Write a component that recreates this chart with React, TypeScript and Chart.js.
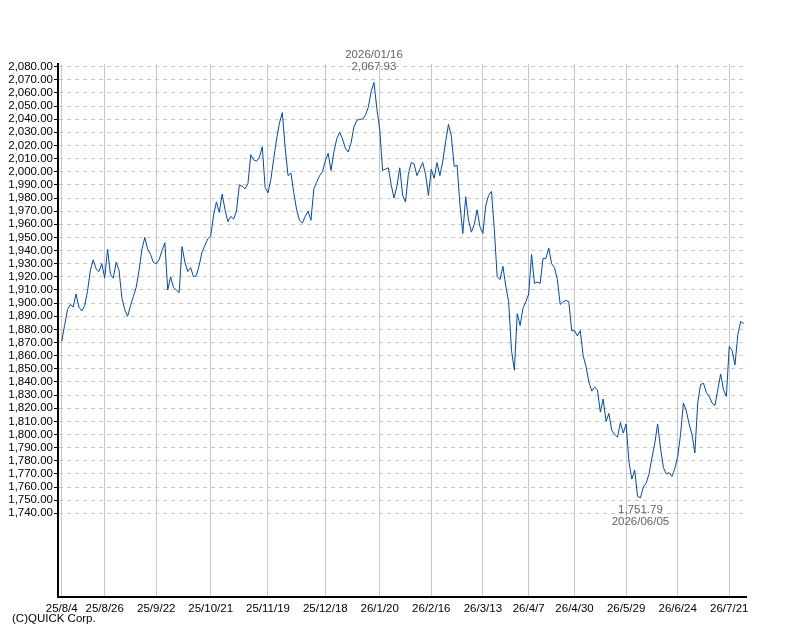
import { useEffect, useRef } from 'react';
import { Chart, registerables } from 'chart.js';

Chart.register(...registerables);

// daily closes, 2025/08/04 .. 2026/07/27 (trading days)
const closes: number[] = [
  1871, 1883, 1895, 1899, 1897, 1907, 1897, 1894, 1898, 1909,
  1925, 1933, 1926, 1924, 1930, 1919, 1941, 1922, 1919, 1931,
  1925, 1904, 1895, 1890, 1898, 1905, 1912, 1925, 1941, 1950,
  1941, 1937, 1931, 1930, 1933, 1940, 1946, 1910, 1920, 1912,
  1910, 1908, 1943, 1931, 1924, 1927, 1920, 1921, 1929, 1939,
  1944, 1949, 1951, 1967, 1977, 1969, 1983, 1971, 1962, 1966,
  1964, 1970, 1990, 1989, 1987, 1991, 2013, 2009, 2008, 2011,
  2019, 1988, 1984, 1994, 2010, 2025, 2037, 2045, 2018, 1997,
  1999, 1984, 1971, 1963, 1961, 1966, 1970, 1963, 1987, 1992,
  1997, 2000, 2008, 2014, 2001, 2015, 2025, 2030, 2025, 2018,
  2015, 2022, 2034, 2039, 2040, 2040, 2043, 2049, 2061, 2067.93,
  2048, 2032, 2001, 2002, 2003, 1990, 1980, 1989, 2003, 1982,
  1977, 1998, 2007, 2006, 1997, 2002, 2007, 1998, 1982, 2002,
  1995, 2007, 1997, 2008, 2023, 2036, 2027, 2004, 2005, 1975,
  1953, 1981, 1963, 1954, 1960, 1971, 1958, 1953, 1974, 1982,
  1985, 1956, 1920, 1918, 1928, 1913, 1901, 1864, 1849, 1892,
  1883, 1896, 1901, 1907, 1937, 1915, 1916, 1915, 1934, 1934,
  1942, 1930, 1927, 1918, 1899, 1901, 1902, 1901, 1879, 1879,
  1875, 1879, 1860, 1852, 1840, 1833, 1836, 1834, 1817, 1827,
  1810, 1816, 1803, 1800, 1798, 1809, 1801, 1808, 1779, 1766,
  1773, 1753, 1751.79, 1760, 1763, 1770, 1782, 1793, 1808, 1790,
  1775, 1770, 1771, 1768, 1774, 1783, 1800, 1824, 1818, 1808,
  1800, 1786, 1824, 1838, 1839, 1832, 1829, 1824, 1822, 1834,
  1846, 1834, 1829, 1867, 1864, 1853, 1876, 1886, 1884.5,
];

const xTickIdx = [0, 15, 33, 52, 72, 92, 111, 129, 147, 163, 179, 197, 215, 233];
const xTickLabels = [
  '25/8/4', '25/8/26', '25/9/22', '25/10/21', '25/11/19', '25/12/18', '26/1/20',
  '26/2/16', '26/3/13', '26/4/7', '26/4/30', '26/5/29', '26/6/24', '26/7/21',
];
const yTicks = [
  1740, 1750, 1760, 1770, 1780, 1790, 1800, 1810, 1820, 1830, 1840, 1850,
  1860, 1870, 1880, 1890, 1900, 1910, 1920, 1930, 1940, 1950, 1960, 1970,
  1980, 1990, 2000, 2010, 2020, 2030, 2040, 2050, 2060, 2070, 2080,
];

const highIdx = 109;
const highDate = '2026/01/16';
const lowIdx = 202;
const lowDate = '2026/06/05';

const FONT = '11.5px "Liberation Sans", Arial, sans-serif';
const fmt = (v: number) =>
  v.toLocaleString('en-US', { minimumFractionDigits: 2, maximumFractionDigits: 2 });

const notesPlugin = {
  id: 'notes',
  afterDraw(chart: any) {
    const { ctx, scales } = chart;
    const x = scales.x;
    const y = scales.y;
    ctx.save();
    ctx.font = FONT;
    ctx.textBaseline = 'middle';
    ctx.textAlign = 'center';
    ctx.fillStyle = '#646464';

    const hx = x.getPixelForValue(highIdx);
    const hy = y.getPixelForValue(closes[highIdx]);
    ctx.fillText(highDate, hx, hy - 28);
    ctx.fillText(fmt(closes[highIdx]), hx, hy - 16);

    const lx = x.getPixelForValue(lowIdx);
    const ly = y.getPixelForValue(closes[lowIdx]);
    ctx.fillText(fmt(closes[lowIdx]), lx, ly + 12);
    ctx.fillText(lowDate, lx, ly + 24);

    ctx.fillStyle = '#000';
    ctx.textAlign = 'left';
    ctx.fillText('(C)QUICK Corp.', 12, 619);
    ctx.restore();
  },
};

function PriceChart() {
  const canvasRef = useRef<HTMLCanvasElement>(null);

  useEffect(() => {
    if (!canvasRef.current) return;
    const chart = new Chart(canvasRef.current, {
      type: 'line',
      data: {
        datasets: [
          {
            data: closes.map((v, i) => ({ x: i, y: v })),
            borderColor: '#0048b4',
            borderWidth: 1,
            pointRadius: 0,
            tension: 0,
            fill: false,
          },
        ],
      },
      options: {
        animation: false,
        responsive: false,
        events: [],
        layout: { padding: { left: 0, top: 64, right: 44, bottom: 0 } },
        plugins: { legend: { display: false }, tooltip: { enabled: false } },
        scales: {
          x: {
            type: 'linear',
            min: -1.3,
            max: 238.85,
            afterBuildTicks: (scale: any) => {
              scale.ticks = xTickIdx.map((v) => ({ value: v }));
            },
            afterFit: (scale: any) => {
              scale.height = 43;
            },
            grid: { color: '#c8c8c8', lineWidth: 1, drawTicks: false },
            border: { display: true, color: '#000', width: 2 },
            ticks: {
              autoSkip: false,
              maxRotation: 0,
              padding: 5,
              color: '#000',
              font: { family: '"Liberation Sans", Arial, sans-serif', size: 11.5 },
              callback: (value: any) => xTickLabels[xTickIdx.indexOf(Number(value))] ?? '',
            },
          },
          y: {
            type: 'linear',
            min: 1676.3,
            max: 2082,
            afterBuildTicks: (scale: any) => {
              scale.ticks = yTicks.map((v) => ({ value: v }));
            },
            afterFit: (scale: any) => {
              scale.width = 58;
            },
            grid: {
              color: '#c8c8c8',
              lineWidth: 1,
              drawTicks: true,
              tickLength: 4,
              tickColor: '#000',
              tickWidth: 1,
              tickBorderDash: [],
            },
            border: { display: true, color: '#000', width: 2, dash: [4, 4] },
            ticks: {
              autoSkip: false,
              padding: 1,
              color: '#000',
              font: { family: '"Liberation Sans", Arial, sans-serif', size: 11.5 },
              callback: (value: any) => fmt(Number(value)),
            },
          },
        },
      },
      plugins: [notesPlugin],
    });
    return () => chart.destroy();
  }, []);

  return <canvas ref={canvasRef} width={790} height={640} style={{ width: 790, height: 640 }} />;
}

export default function App() {
  return (
    <div style={{ position: 'absolute', left: 0, top: 0, width: 790, height: 640, background: '#fff' }}>
      <PriceChart />
    </div>
  );
}
